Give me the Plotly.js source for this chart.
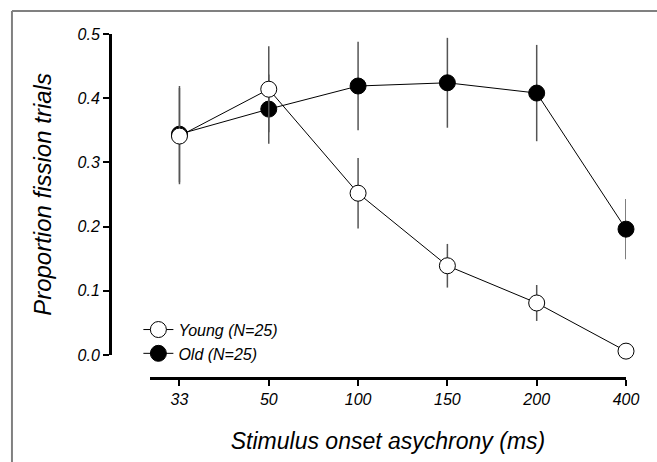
<!DOCTYPE html>
<html>
<head>
<meta charset="utf-8">
<script src="https://cdn.plot.ly/plotly-3.0.1.min.js"></script>
<style>html,body{margin:0;padding:0;background:#fff;}#chart{width:657px;height:462px;}</style>
</head>
<body>
<div id="chart"></div>
<script>
const soaLabels = ['33', '50', '100', '150', '200', '400'];
const youngMean = [0.341, 0.414, 0.252, 0.139, 0.081, 0.006];
const youngErr  = [0.075, 0.067, 0.055, 0.034, 0.028, 0.005];
const oldMean   = [0.344, 0.383, 0.419, 0.424, 0.408, 0.196];
const oldErr    = [0.075, 0.054, 0.069, 0.070, 0.075, 0.047];

const FONT = 'Liberation Sans, Arial, sans-serif';

function series(name, y, err, fill) {
  return {
    type: 'scatter', mode: 'lines+markers', name: name,
    x: soaLabels, y: y, cliponaxis: false,
    line: {color: '#000', width: 1},
    marker: {size: 16, color: fill, line: {color: '#000', width: 1}},
    error_y: {type: 'data', array: err, visible: true, color: '#555', thickness: 1.5, width: 0}
  };
}

const data = [
  series('Old (N=25)', oldMean, oldErr, '#000'),
  series('Young (N=25)', youngMean, youngErr, '#fff')
];

const layout = {
  width: 657, height: 462,
  margin: {l: 110, r: 31, t: 34, b: 84},
  paper_bgcolor: '#fff', plot_bgcolor: '#fff',
  font: {family: FONT, color: '#000', size: 16},
  showlegend: true,
  legend: {x: 0.055, y: 0.19, xanchor: 'left', yanchor: 'top', traceorder: 'reversed',
           font: {family: FONT, size: 16, style: 'italic'}, bgcolor: 'rgba(0,0,0,0)', tracegroupgap: 0},
  xaxis: {
    type: 'category', range: [-0.33, 5], domain: [0.0775, 1],
    anchor: 'free', position: 0,
    showline: true, linecolor: '#000', linewidth: 2.5,
    ticks: 'outside', ticklen: 6, tickwidth: 2, tickcolor: '#000',
    showgrid: false, zeroline: false,
    tickfont: {family: FONT, size: 16, style: 'italic'},
    title: {text: 'Stimulus onset asychrony (ms)', font: {family: FONT, size: 23, style: 'italic'}, standoff: 25}
  },
  yaxis: {
    range: [0, 0.5], domain: [0.0669, 1],
    anchor: 'free', position: 0,
    showline: true, linecolor: '#000', linewidth: 2.5,
    ticks: 'outside', ticklen: 6, tickwidth: 2, tickcolor: '#000',
    tickvals: [0, 0.1, 0.2, 0.3, 0.4, 0.5], tickformat: '.1f',
    showgrid: false, zeroline: false,
    tickfont: {family: FONT, size: 16, style: 'italic'},
    title: {text: 'Proportion fission trials', font: {family: FONT, size: 24, style: 'italic'}, standoff: 18}
  },
  shapes: [
    {type: 'line', xref: 'paper', yref: 'paper', x0: -0.19, x1: -0.19, y0: -0.3, y1: 1.0669,
     line: {color: '#808080', width: 2}},
    {type: 'line', xref: 'paper', yref: 'paper', x0: -0.19, x1: 1.1, y0: 1.0669, y1: 1.0669,
     line: {color: '#808080', width: 2}}
  ]
};

Plotly.newPlot('chart', data, layout, {staticPlot: true, displayModeBar: false});
</script>
</body>
</html>
